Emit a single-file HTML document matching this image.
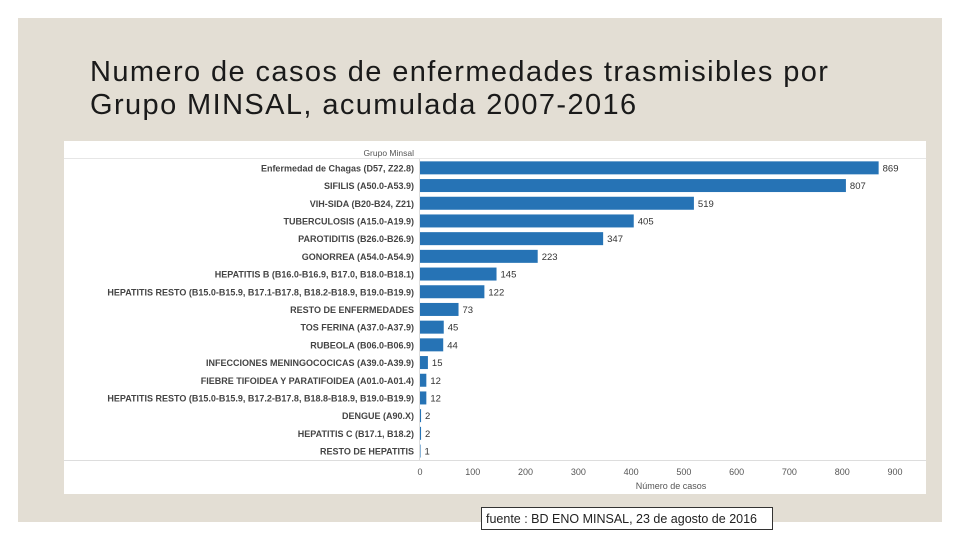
<!DOCTYPE html>
<html><head><meta charset="utf-8"><style>
body{margin:0;width:960px;height:540px;background:#fff;overflow:hidden;font-family:"Liberation Sans",sans-serif}
#slide{position:absolute;left:18px;top:18px;width:924px;height:504px;background:#e3ded4}
#title{position:absolute;left:90px;top:56px;font-size:29px;letter-spacing:1.4px;line-height:33px;color:#1a1a1a}
#panel{position:absolute;left:64px;top:141px;width:862px;height:353px;background:#fff}
#src{position:absolute;left:481px;top:507px;width:292px;height:23px;border:1px solid #333;background:#fff;font-size:12.5px;line-height:22px;padding-left:4px;box-sizing:border-box;color:#222}
</style></head><body>
<div id="slide"></div>
<div id="title">Numero de casos de enfermedades trasmisibles por<br>Grupo MINSAL, acumulada 2007-2016</div>
<div id="panel"></div>
<svg id="chart" width="960" height="540" style="position:absolute;left:0;top:0"></svg>
<div id="src">fuente : BD ENO MINSAL, 23 de agosto de 2016</div>
<script>
const categories=["Enfermedad de Chagas (D57, Z22.8)","SIFILIS (A50.0-A53.9)","VIH-SIDA (B20-B24, Z21)","TUBERCULOSIS (A15.0-A19.9)","PAROTIDITIS (B26.0-B26.9)","GONORREA (A54.0-A54.9)","HEPATITIS B (B16.0-B16.9, B17.0, B18.0-B18.1)","HEPATITIS RESTO (B15.0-B15.9, B17.1-B17.8, B18.2-B18.9, B19.0-B19.9)","RESTO DE ENFERMEDADES","TOS FERINA (A37.0-A37.9)","RUBEOLA (B06.0-B06.9)","INFECCIONES MENINGOCOCICAS (A39.0-A39.9)","FIEBRE TIFOIDEA Y PARATIFOIDEA (A01.0-A01.4)","HEPATITIS RESTO (B15.0-B15.9, B17.2-B17.8, B18.8-B18.9, B19.0-B19.9)","DENGUE (A90.X)","HEPATITIS C (B17.1, B18.2)","RESTO DE HEPATITIS"];
const values=[869,807,519,405,347,223,145,122,73,45,44,15,12,12,2,2,1];
const ticks=[0,100,200,300,400,500,600,700,800,900];
const svg=document.getElementById('chart');const NS='http://www.w3.org/2000/svg';
const x0=420,sc=(895-420)/900,y0=159,step=17.7;
const X=v=>x0+v*sc, Y=i=>y0+i*step;
function el(t,a,txt){const e=document.createElementNS(NS,t);for(const k in a)e.setAttribute(k,a[k]);if(txt!==undefined)e.textContent=txt;svg.appendChild(e);return e;}
let e;
e=el('line',{x1:64,x2:926,y1:158.5,y2:158.5,stroke:'#e6e6e6'});
e=el('text',{x:414,y:156,'text-anchor':'end','font-size':8.5,fill:'#555'},'Grupo Minsal');
e=el('line',{x1:419.5,x2:419.5,y1:159,y2:461,stroke:'#ddd'});
e=el('line',{x1:64,x2:926,y1:460.5,y2:460.5,stroke:'#ddd'});
categories.forEach((c,i)=>{const cy=Y(i)+step/2;
 let t=el('text',{x:414,y:cy+3.5,'text-anchor':'end','font-size':9,'font-weight':'bold',fill:'#444'},c);
 
 let r=el('rect',{x:x0,y:cy-6.5,width:Math.max(values[i]*sc,0.5),height:13,fill:'#2673b5'});
 
 let v=el('text',{x:X(values[i])+4,y:cy+3.5,'font-size':9.5,fill:'#333'},String(values[i]));
 
});
ticks.forEach(t=>{let l=el('text',{x:X(t),y:475,'text-anchor':'middle','font-size':9,fill:'#555'},String(t));
 });
e=el('text',{x:671,y:489,'text-anchor':'middle','font-size':9,fill:'#555'},'Número de casos');
</script>
</body></html>
